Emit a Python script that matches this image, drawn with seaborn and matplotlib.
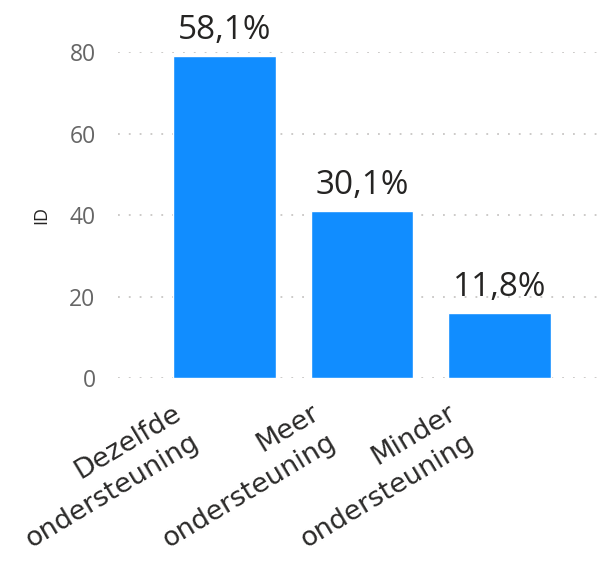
import seaborn as sns
import pandas as pd
import matplotlib.pyplot as plt
from matplotlib.transforms import ScaledTranslation

categories = ["Dezelfde\nondersteuning", "Meer\nondersteuning", "Minder\nondersteuning"]
counts = [79, 41, 16]
percent_labels = ["58,1%", "30,1%", "11,8%"]

sns.set_style("white")
plt.rcParams["font.family"] = ["Open Sans", "DejaVu Sans"]

df = pd.DataFrame({"categorie": categories, "ID": counts})

fig = plt.figure(figsize=(5.98, 5.63), dpi=100)
ax = fig.add_axes([0.197, 0.3286, 0.803, 0.579])

sns.barplot(x="categorie", y="ID", data=df, color="#118DFF", saturation=1, width=0.75, ax=ax)

ax.set_xlim(-0.78, 2.72)
ax.set_ylim(0, 80)
ax.set_yticks([0, 20, 40, 60, 80])
ax.yaxis.grid(True, linestyle=(0, (1, 5)), color="#C8C6C4", linewidth=1.3)
ax.set_axisbelow(True)
for s in ax.spines.values():
    s.set_visible(False)

ax.tick_params(axis="y", colors="#666666", labelsize=16.5, length=0, pad=16)
ax.tick_params(axis="x", colors="#2b2a29", labelsize=19.5, length=0, pad=16)
ax.set_xlabel("")
ax.set_ylabel("ID", fontsize=13, color="#252423", labelpad=14)

for i, (v, lab) in enumerate(zip(counts, percent_labels)):
    ax.annotate(lab, (i, v), xytext=(0, 6.5), textcoords="offset points",
                ha="center", va="bottom", fontsize=24, color="#252423",
                annotation_clip=False)

# schuine labels, rechts uitgelijnd en iets naar links verschoven
shift = ScaledTranslation(-0.52, 0, fig.dpi_scale_trans)
for t in ax.get_xticklabels():
    t.set_fontfamily("DejaVu Sans")
    t.set_fontsize(19.5)
    t.set_rotation(31)
    t.set_ha("right")
    t.set_va("top")
    t.set_rotation_mode("anchor")
    t.set_multialignment("right")
    t.set_linespacing(1.4)
    t.set_transform(t.get_transform() + shift)

fig.savefig("out.png", dpi=100)
